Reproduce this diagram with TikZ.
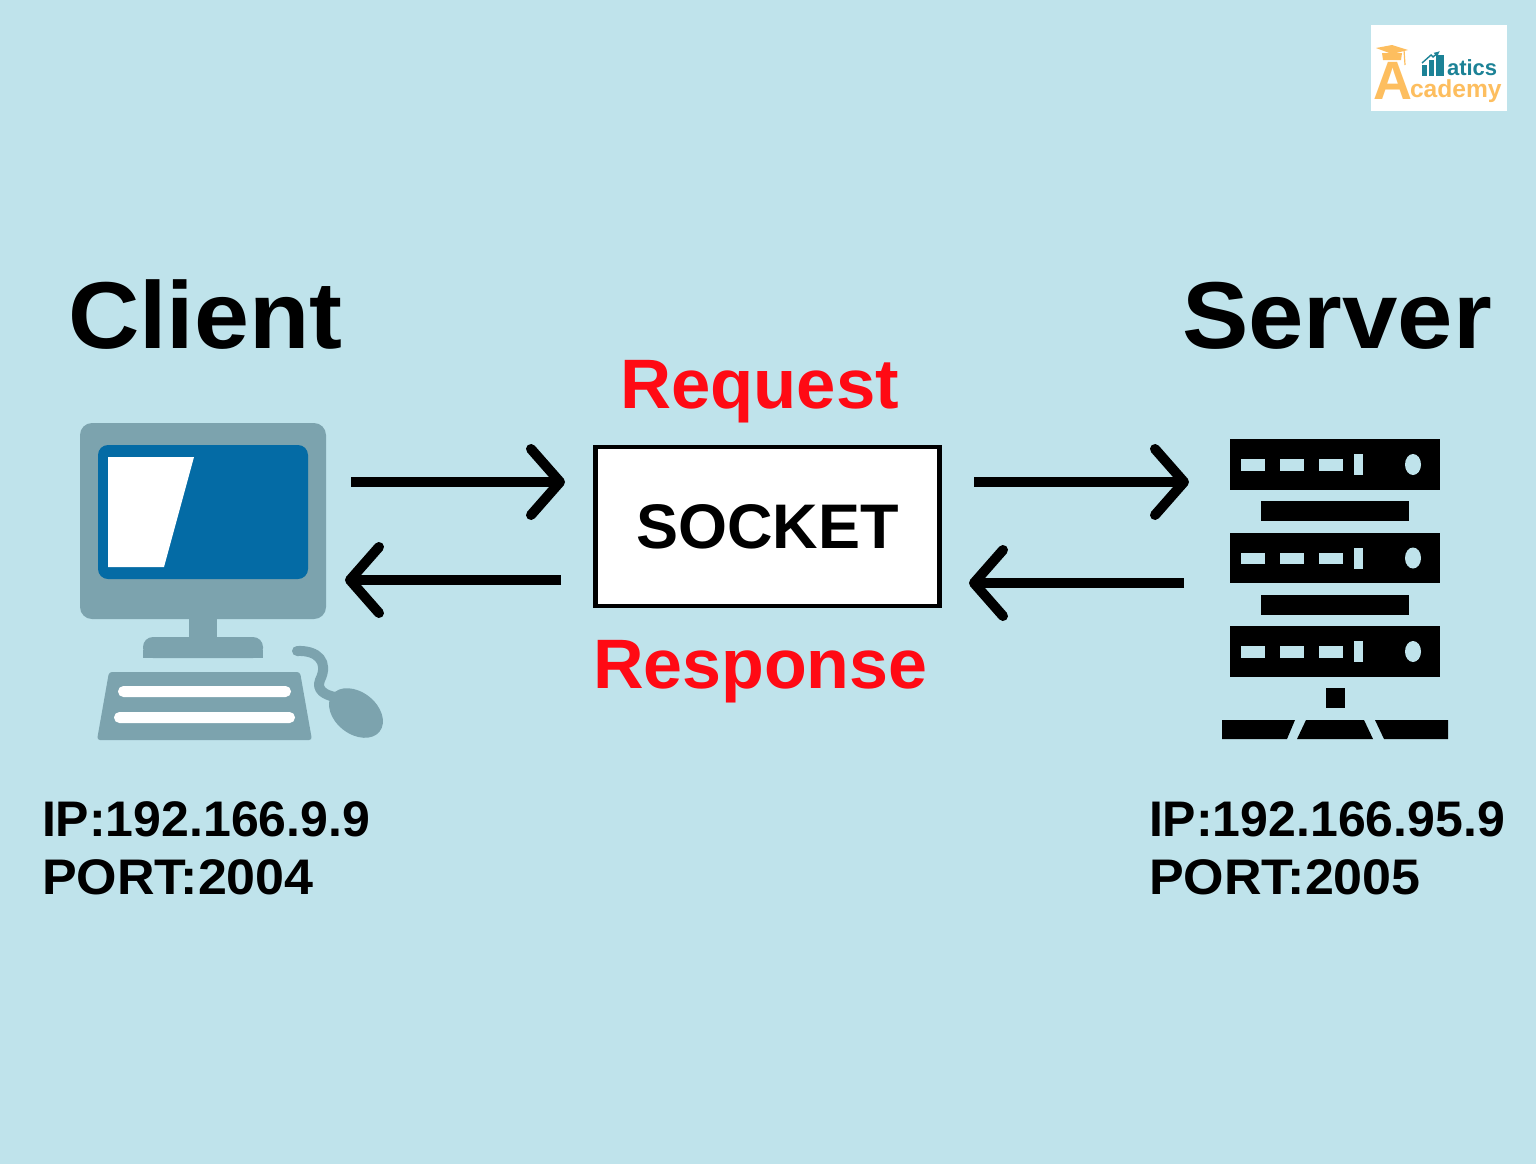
\documentclass[tikz,border=0pt]{standalone}
\usepackage{fontspec}
\usepackage{graphicx}
\setmainfont{Liberation Sans}
\usetikzlibrary{arrows.meta}
\definecolor{bgc}{HTML}{BFE3EB}
\definecolor{pcg}{HTML}{7CA3AE}
\definecolor{scr}{HTML}{046BA5}
\definecolor{reqred}{HTML}{FF0A14}
\definecolor{logoor}{HTML}{FDBE5F}
\definecolor{logote}{HTML}{1C8296}
\tikzset{
  x=0.5pt,y=-0.5pt,
  lbl/.style={inner sep=0pt,outer sep=0pt,anchor=base west,font=\bfseries},
  big/.style={lbl,font=\fontsize{47.5}{50}\bfseries\selectfont},
  mid/.style={lbl,text=reqred,font=\fontsize{35}{38}\bfseries\selectfont},
  info/.style={lbl,font=\fontsize{25}{28}\bfseries\selectfont},
  conn/.style={line width=5pt,line cap=butt,line join=round,-{Straight Barb[length=14.5pt,width=33pt,round]}},
  pc/.style={fill=pcg,draw=none},
  slot/.style={fill=bgc,draw=none},
  hw/.style={fill=black,draw=none},
}
\begin{document}
\begin{tikzpicture}
\useasboundingbox (0,0) rectangle (1536,1164);
\fill[bgc] (0,0) rectangle (1536,1164);
% logo
\fill[white] (1371,25) rectangle (1507,111);
\node[lbl,text=logoor,font=\fontsize{27}{28}\bfseries\selectfont] (logoA) at (1373,99) {A};
\node[lbl,text=logoor,font=\fontsize{12.3}{14}\bfseries\selectfont] (logoB) at (1410,97) {cademy};
\node[lbl,text=logote,font=\fontsize{11}{13}\bfseries\selectfont] (logoC) at (1447,75) {atics};
\fill[logoor] (1376,48) -- (1392,45) -- (1408,50) -- (1392,54) -- cycle;
\fill[logoor] (1382,53) -- (1402,53) -- (1401,60) -- (1383,60) -- cycle;
\draw[logoor,line width=0.6pt] (1404,50) -- (1405,65);
\fill[logote] (1422,65) rectangle (1427,76);
\fill[logote] (1429,60) rectangle (1434,76);
\fill[logote] (1436,55) rectangle (1444,76);
\draw[logote,line width=0.7pt,-{Latex[length=3pt,width=3pt]}] (1422,63) -- (1431,55) -- (1433,57) -- (1440,51);
% titles
\node[big] (client) at (68,348) {\scalebox{1.04}[1]{Client}};
\node[big] (server) at (1182,348) {\scalebox{1.048}[1]{Server}};
\node[mid] (request) at (620,408) {\scalebox{1.01}[1]{Request}};
\node[mid] (response) at (593,688) {Response};
\node[info] (ip1) at (42,836) {IP:192.166.9.9};
\node[info] (port1) at (42,894) {\scalebox{1.04}[1]{PORT:2004}};
\node[info] (ip2) at (1149,836) {IP:192.166.95.9};
\node[info] (port2) at (1149,894) {\scalebox{1.04}[1]{PORT:2005}};
% socket
\node[draw=black,fill=white,line width=2.25pt,minimum width=172pt,minimum height=79.5pt,inner sep=0pt,
  font=\fontsize{31.5}{34}\bfseries\selectfont] (socket) at (767.5,526.5) {\raisebox{-0.8pt}{SOCKET}};
% computer
\fill[pc,rounded corners=6pt] (80,423) rectangle (326,619);
\fill[scr,rounded corners=5pt] (98,445) rectangle (308,579);
\fill[white] (108,457) -- (194,457) -- (164,567) -- (108,567) -- cycle;
\fill[pc] (189,615) rectangle (217,640);
\fill[pc,rounded corners=5pt] (143,658) -- (143,637) -- (263,637) -- (263,658) -- cycle;
\fill[pc] (143,650) rectangle (263,658);
\fill[pc,rounded corners=1.5pt] (109,672) -- (300,672) -- (312,740) -- (97,740) -- cycle;
\fill[white,rounded corners=2.7pt] (118,686) rectangle (291,697);
\fill[white,rounded corners=2.7pt] (114,712) rectangle (295,723);
\draw[pcg,line width=5pt,line cap=round] (297,651) .. controls (318,650) and (329,662) .. (320,680) .. controls (316,690) and (325,695) .. (335,697);
\fill[pc,rotate around={-38:(356,713)}] (356,713) ellipse [x radius=30,y radius=21];
% server
\foreach \t in {439,532.5,626}{
  \fill[hw] (1230,\t) rectangle (1440,\t+50.5);
  \fill[slot] (1241,\t+20) rectangle (1265,\t+31.5);
  \fill[slot] (1280,\t+20) rectangle (1304,\t+31.5);
  \fill[slot] (1319,\t+20) rectangle (1343,\t+31.5);
  \fill[slot] (1354,\t+15) rectangle (1363,\t+36);
  \fill[slot] (1413,\t+25.5) ellipse [x radius=8,y radius=10.5];
}
\fill[hw] (1261,501) rectangle (1409,521);
\fill[hw] (1261,595) rectangle (1409,614.5);
\fill[hw] (1326,688) rectangle (1345,708);
\fill[hw] (1222,720) -- (1295,720) -- (1287,739) -- (1222,739) -- cycle;
\fill[hw] (1306,720) -- (1364,720) -- (1373,739) -- (1297,739) -- cycle;
\fill[hw] (1375,720) -- (1448,720) -- (1448,739) -- (1384,739) -- cycle;
% connectors
\coordinate (pcout) at (351,482);
\coordinate (pcin) at (345,580);
\coordinate (sockinl) at (565,482);
\coordinate (sockoutl) at (561,580);
\coordinate (sockoutr) at (974,482);
\coordinate (srvin) at (1189,482);
\coordinate (srvout) at (1184,583);
\coordinate (sockinr) at (969,583);
\draw[conn] (pcout) -- (sockinl);
\draw[conn] (sockoutl) -- (pcin);
\draw[conn] (sockoutr) -- (srvin);
\draw[conn] (srvout) -- (sockinr);
\end{tikzpicture}
\end{document}
